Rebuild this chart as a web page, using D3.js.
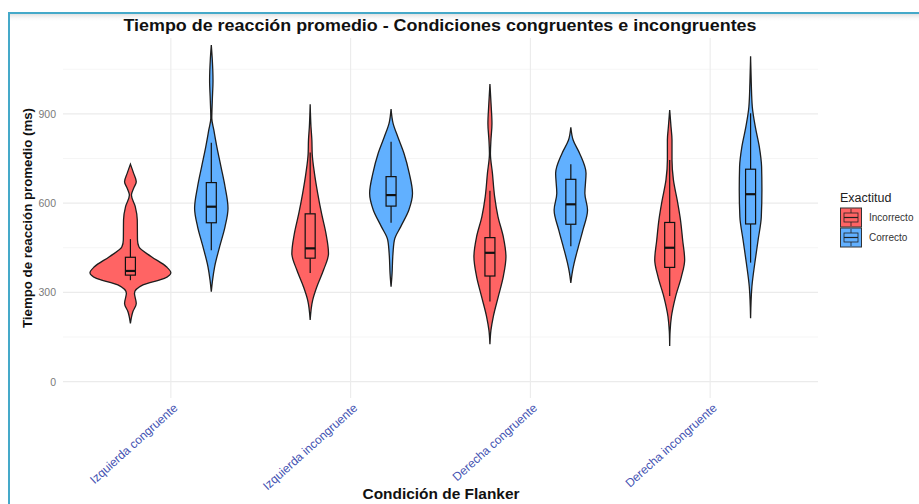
<!DOCTYPE html>
<html>
<head>
<meta charset="utf-8">
<script src="https://cdn.jsdelivr.net/npm/d3@7"></script>
<style>
  html, body { margin: 0; padding: 0; background: #fff; }
  svg { display: block; font-family: "Liberation Sans", Arial, sans-serif; }
</style>
</head>
<body>
<svg id="chart" width="919" height="504"></svg>
<script>
// Flanker task: mean reaction time by condition and accuracy
const categories = ["Izquierda congruente", "Izquierda incongruente", "Derecha congruente", "Derecha incongruente"];
const groups = ["Incorrecto", "Correcto"];
const yTicks = [0, 300, 600, 900];
const yMinorTicks = [150, 450, 750, 1050];

// Violin density profiles: [reaction time (ms), relative density]
const densIzqCongIncorrecto = [[731,0],[700,0.08],[672,0.145],[650,0.08],[627,0.025],[588,0.12],[543,0.17],[476,0.175],[453,0.21],[420,0.52],[386,0.89],[366,1.0],[347,0.84],[325,0.31],[297,0.1],[263,0.145],[235,0.06],[196,0]];
const densIzqCongCorrecto = [[1131,0],[1081,0.025],[1013,0.042],[946,0.025],[885,0.012],[846,0.062],[790,0.136],[722,0.24],[655,0.34],[583,0.413],[521,0.34],[453,0.205],[386,0.082],[342,0.032],[302,0]];
const densIzqIncIncorrecto = [[932,0],[857,0.02],[812,0.042],[767,0.05],[700,0.106],[633,0.186],[566,0.28],[498,0.39],[431,0.453],[375,0.33],[319,0.166],[274,0.062],[207,0]];
const densIzqIncCorrecto = [[916,0],[868,0.05],[823,0.166],[767,0.32],[700,0.45],[633,0.53],[577,0.44],[521,0.24],[476,0.082],[420,0.042],[364,0.025],[319,0]];
const densDerCongIncorrecto = [[1000,0],[924,0.032],[868,0.05],[812,0.025],[767,0.012],[700,0.062],[622,0.116],[554,0.2],[487,0.33],[420,0.396],[353,0.33],[285,0.205],[218,0.082],[173,0.025],[126,0]];
const densDerCongCorrecto = [[855,0],[812,0.057],[767,0.218],[700,0.376],[633,0.347],[577,0.413],[510,0.3],[453,0.186],[398,0.082],[364,0.032],[332,0]];
const densDerIncIncorrecto = [[913,0],[857,0.032],[812,0.057],[745,0.057],[678,0.092],[610,0.186],[543,0.267],[476,0.32],[409,0.37],[353,0.29],[285,0.144],[218,0.042],[170,0.01],[120,0]];
const densDerIncCorrecto = [[1094,0],[1003,0.017],[924,0.042],[857,0.116],[790,0.215],[722,0.272],[644,0.28],[554,0.265],[476,0.186],[398,0.104],[319,0.032],[213,0]];

// Box summaries: [lower whisker, Q1, median, Q3, upper whisker]
const boxIzqCongIncorrecto = [341, 358, 372, 418, 479];
const boxIzqCongCorrecto = [442, 534, 588, 669, 803];
const boxIzqIncIncorrecto = [365, 415, 448, 564, 770];
const boxIzqIncCorrecto = [534, 590, 627, 689, 806];
const boxDerCongIncorrecto = [269, 355, 433, 484, 642];
const boxDerCongCorrecto = [455, 529, 596, 680, 731];
const boxDerIncIncorrecto = [288, 384, 450, 535, 745];
const boxDerIncCorrecto = [400, 530, 630, 714, 902];

const violins = [
  { cat: categories[0], group: "Incorrecto", dens: densIzqCongIncorrecto, box: boxIzqCongIncorrecto },
  { cat: categories[0], group: "Correcto",   dens: densIzqCongCorrecto,   box: boxIzqCongCorrecto },
  { cat: categories[1], group: "Incorrecto", dens: densIzqIncIncorrecto,  box: boxIzqIncIncorrecto },
  { cat: categories[1], group: "Correcto",   dens: densIzqIncCorrecto,    box: boxIzqIncCorrecto },
  { cat: categories[2], group: "Incorrecto", dens: densDerCongIncorrecto, box: boxDerCongIncorrecto },
  { cat: categories[2], group: "Correcto",   dens: densDerCongCorrecto,   box: boxDerCongCorrecto },
  { cat: categories[3], group: "Incorrecto", dens: densDerIncIncorrecto,  box: boxDerIncIncorrecto },
  { cat: categories[3], group: "Correcto",   dens: densDerIncCorrecto,    box: boxDerIncCorrecto }
];

const colors = { Incorrecto: "#ff6464", Correcto: "#61b0ff" };

const svg = d3.select("#chart");
const W = 919, H = 504;
const panel = { left: 63, right: 818, top: 38, bottom: 398 };

// Page frame
const defs = svg.append("defs");
const grad = defs.append("linearGradient").attr("id", "shade").attr("x1", 0).attr("y1", 0).attr("x2", 0).attr("y2", 1);
grad.append("stop").attr("offset", "0%").attr("stop-color", "#d9d9d9").attr("stop-opacity", 0.8);
grad.append("stop").attr("offset", "100%").attr("stop-color", "#ffffff").attr("stop-opacity", 0);
svg.append("rect").attr("x", 10).attr("y", 14).attr("width", W - 10).attr("height", 8).attr("fill", "url(#shade)");
svg.append("line").attr("x1", 8).attr("x2", W).attr("y1", 13).attr("y2", 13).attr("stroke", "#45a9c9").attr("stroke-width", 2);
svg.append("line").attr("x1", 9).attr("x2", 9).attr("y1", 12).attr("y2", H).attr("stroke", "#45a9c9").attr("stroke-width", 2);

// Scales
const x = d3.scalePoint().domain(categories).range([panel.left, panel.right]).padding(0.6);
const step = x.step();
const xSub = d3.scaleBand().domain(groups).range([-0.45 * step, 0.45 * step]);
const y = d3.scaleLinear().domain([-55, 1155]).range([panel.bottom, panel.top]);
const w = d3.scaleLinear().domain([0, 1]).range([0, xSub.bandwidth() / 2]);

// Grid
const grid = svg.append("g");
grid.selectAll(".ymin").data(yMinorTicks).join("line")
  .attr("x1", panel.left).attr("x2", panel.right)
  .attr("y1", d => y(d)).attr("y2", d => y(d))
  .attr("stroke", "#f2f2f2").attr("stroke-width", 0.8);
grid.selectAll(".ymaj").data(yTicks).join("line")
  .attr("x1", panel.left).attr("x2", panel.right)
  .attr("y1", d => y(d)).attr("y2", d => y(d))
  .attr("stroke", "#ebebeb").attr("stroke-width", 1.1);
grid.selectAll(".xmaj").data(categories).join("line")
  .attr("x1", d => x(d)).attr("x2", d => x(d))
  .attr("y1", panel.top).attr("y2", panel.bottom)
  .attr("stroke", "#ebebeb").attr("stroke-width", 1.1);

// Axes (labels only)
const yAxis = svg.append("g").attr("transform", `translate(${panel.left - 7},0)`)
  .call(d3.axisLeft(y).tickValues(yTicks).tickSize(0).tickPadding(0));
yAxis.select(".domain").remove();
yAxis.selectAll("text").attr("fill", "#7a7a7a").style("font-size", "10.5px")
  .style("font-family", "'Liberation Sans', Arial, sans-serif");

const xAxis = svg.append("g").attr("transform", `translate(0,${panel.bottom})`)
  .call(d3.axisBottom(x).tickSize(0).tickPadding(0));
xAxis.select(".domain").remove();
xAxis.selectAll("text")
  .attr("fill", "#4352b2")
  .style("font-size", "12px")
  .style("font-family", "'Liberation Sans', Arial, sans-serif")
  .attr("text-anchor", "end")
  .attr("dy", null)
  .attr("y", 0)
  .attr("transform", "translate(7,11) rotate(-42)");

// Violins and boxes
const area = d3.area()
  .curve(d3.curveMonotoneY)
  .y(d => y(d[0]));

const vg = svg.append("g");
violins.forEach(v => {
  const cx = x(v.cat) + xSub(v.group) + xSub.bandwidth() / 2;
  const pts = v.dens.slice().sort((a, b) => b[0] - a[0]);
  vg.append("path")
    .datum(pts)
    .attr("d", area.x0(d => cx - w(d[1])).x1(d => cx + w(d[1])))
    .attr("fill", colors[v.group])
    .attr("stroke", "#1e1e1e")
    .attr("stroke-width", 1.3);

  const [lo, q1, med, q3, hi] = v.box;
  const bw = 5;
  const g = vg.append("g").attr("stroke", "#111");
  g.append("line").attr("x1", cx).attr("x2", cx).attr("y1", y(hi)).attr("y2", y(q3)).attr("stroke-width", 1.2);
  g.append("line").attr("x1", cx).attr("x2", cx).attr("y1", y(q1)).attr("y2", y(lo)).attr("stroke-width", 1.2);
  g.append("rect").attr("x", cx - bw).attr("width", 2 * bw)
    .attr("y", y(q3)).attr("height", y(q1) - y(q3))
    .attr("fill", colors[v.group]).attr("stroke-width", 1.2);
  g.append("line").attr("x1", cx - bw).attr("x2", cx + bw).attr("y1", y(med)).attr("y2", y(med)).attr("stroke-width", 2.2);
});

// Titles
svg.append("text")
  .attr("x", 440).attr("y", 31)
  .attr("text-anchor", "middle")
  .attr("textLength", 633).attr("lengthAdjust", "spacingAndGlyphs")
  .style("font-size", "17px").style("font-weight", "bold")
  .attr("fill", "#111")
  .text("Tiempo de reacción promedio - Condiciones congruentes e incongruentes");

svg.append("text")
  .attr("transform", `translate(32,${(panel.top + panel.bottom) / 2}) rotate(-90)`)
  .attr("text-anchor", "middle")
  .attr("textLength", 220).attr("lengthAdjust", "spacingAndGlyphs")
  .style("font-size", "13.5px").style("font-weight", "bold")
  .attr("fill", "#111")
  .text("Tiempo de reacción promedio (ms)");

svg.append("text")
  .attr("x", 441).attr("y", 499)
  .attr("text-anchor", "middle")
  .attr("textLength", 157).attr("lengthAdjust", "spacingAndGlyphs")
  .style("font-size", "14px").style("font-weight", "bold")
  .attr("fill", "#111")
  .text("Condición de Flanker");

// Legend
const leg = svg.append("g").attr("transform", "translate(840,0)");
leg.append("text").attr("x", 0).attr("y", 202)
  .style("font-size", "12.5px").attr("fill", "#222").text("Exactitud");
groups.forEach((gname, i) => {
  const top = 208 + i * 20;
  const k = leg.append("g");
  k.append("rect").attr("x", 0.5).attr("y", top).attr("width", 21).attr("height", 19)
    .attr("fill", colors[gname]).attr("stroke", "#333").attr("stroke-width", 1);
  k.append("rect").attr("x", 4).attr("y", top + 5).attr("width", 14).attr("height", 9)
    .attr("fill", colors[gname]).attr("stroke", "#222").attr("stroke-width", 0.8);
  k.append("line").attr("x1", 4).attr("x2", 18).attr("y1", top + 9.5).attr("y2", top + 9.5)
    .attr("stroke", "#222").attr("stroke-width", 1.2);
  k.append("line").attr("x1", 11).attr("x2", 11).attr("y1", top + 1).attr("y2", top + 5)
    .attr("stroke", "#222").attr("stroke-width", 0.8);
  k.append("line").attr("x1", 11).attr("x2", 11).attr("y1", top + 14).attr("y2", top + 18)
    .attr("stroke", "#222").attr("stroke-width", 0.8);
  leg.append("text").attr("x", 29).attr("y", top + 13)
    .style("font-size", "10px").attr("fill", "#333").text(gname);
});
</script>
</body>
</html>
